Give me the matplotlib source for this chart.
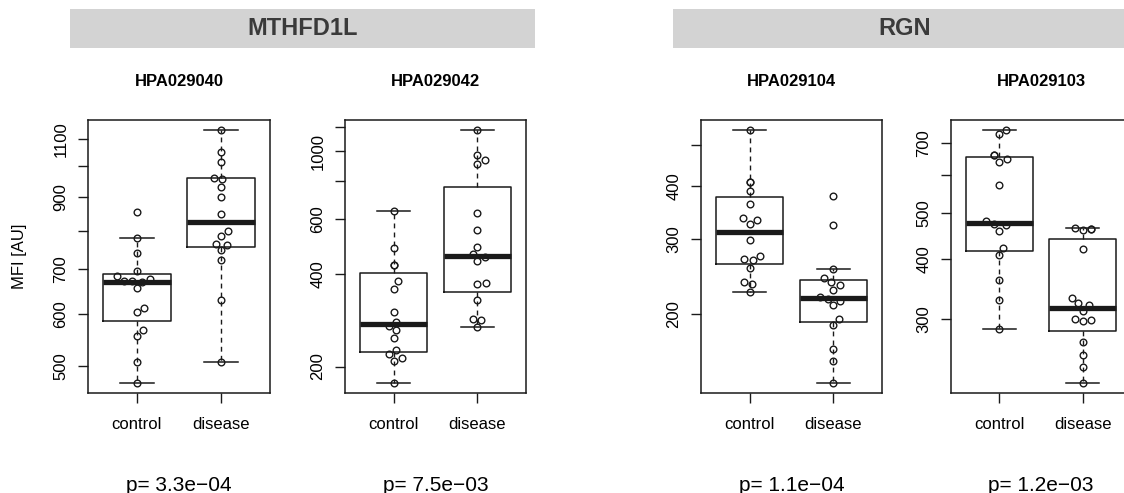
import numpy as np
import matplotlib
matplotlib.use("Agg")
import matplotlib.pyplot as plt
from matplotlib.patches import Rectangle
from matplotlib.ticker import NullLocator, NullFormatter

plt.rcParams['font.family'] = ['Liberation Sans', 'DejaVu Sans']

# data
groups = ['control', 'disease']
genes = ['MTHFD1L', 'RGN']
antibodies = ['HPA029040', 'HPA029042', 'HPA029104', 'HPA029103']
p_values = ['p= 3.3e\u221204', 'p= 7.5e\u221203', 'p= 1.1e\u221204', 'p= 1.2e\u221203']

hpa029040_control = [472, 508, 556, 567, 603, 611, 655, 669, 671, 673, 676, 684, 695, 740, 779, 855]
hpa029040_disease = [508, 629, 723, 748, 762, 764, 786, 799, 848, 900, 930, 957, 961, 1014, 1052, 1134]
hpa029042_control = [177, 209, 213, 220, 227, 247, 262, 270, 279, 300, 358, 378, 428, 428, 485, 641]
hpa029042_disease = [269, 284, 285, 328, 370, 372, 441, 452, 464, 490, 555, 630, 905, 933, 975, 1170]
hpa029104_control = [226, 236, 238, 257, 268, 270, 274, 298, 326, 333, 336, 363, 389, 409, 409, 541]
hpa029104_disease = [138, 155, 166, 189, 195, 210, 215, 217, 220, 228, 234, 238, 243, 256, 324, 378]
hpa029103_control = [286, 329, 362, 408, 423, 459, 471, 473, 481, 571, 641, 649, 660, 660, 731, 746]
hpa029103_disease = [220, 238, 252, 268, 296, 298, 300, 312, 321, 323, 332, 420, 461, 463, 463, 465]

panel_data = [
    (hpa029040_control, hpa029040_disease),
    (hpa029042_control, hpa029042_disease),
    (hpa029104_control, hpa029104_disease),
    (hpa029103_control, hpa029103_disease),
]
yticks = [
    [500, 600, 700, 800, 900, 1000, 1100],
    [200, 400, 600, 800, 1000, 1200],
    [200, 300, 400, 500],
    [300, 400, 500, 600, 700],
]
ytick_labels = [
    ['500', '600', '700', '', '900', '', '1100'],
    ['200', '400', '600', '', '1000', ''],
    ['200', '300', '400', ''],
    ['300', '400', '500', '', '700'],
]


def tukey_stats(values, label):
    # R style fivenum hinges + 1.5 IQR whiskers
    v = np.sort(np.asarray(values, float))
    n = len(v)
    n4 = np.floor((n + 3) / 2) / 2
    d = np.array([1, n4, (n + 1) / 2, n + 1 - n4, n]) - 1
    fn = 0.5 * (v[np.floor(d).astype(int)] + v[np.ceil(d).astype(int)])
    iqr = fn[3] - fn[1]
    lo = v[v >= fn[1] - 1.5 * iqr].min()
    hi = v[v <= fn[3] + 1.5 * iqr].max()
    return dict(med=fn[2], q1=fn[1], q3=fn[3], whislo=lo, whishi=hi,
                fliers=[], label=label)


def swarm(ypix, size):
    order = np.argsort(ypix, kind='stable')
    xs = np.zeros(len(ypix))
    placed = []
    for i in order:
        y = ypix[i]
        cands = [0.0]
        for j in placed:
            dy = abs(ypix[j] - y)
            if dy < size:
                dx = np.sqrt(size ** 2 - dy ** 2)
                cands += [xs[j] + dx, xs[j] - dx]
        cands.sort(key=abs)
        for c in cands:
            if all((xs[j] - c) ** 2 + (ypix[j] - y) ** 2 >= size ** 2 - 1e-6 for j in placed):
                xs[i] = c
                break
        placed.append(i)
    return xs


W, H = 1124, 493
fig = plt.figure(figsize=(W / 100, H / 100), dpi=100)

lefts = [88, 345, 701, 951]
widths = [182, 181, 181, 180]
ax_top, ax_bot = 120, 393

# gene header bars
for name, x0, x1 in [(genes[0], 70, 535), (genes[1], 673, 1137)]:
    fig.add_artist(Rectangle((x0 / W, 1 - 48 / H), (x1 - x0) / W, 39 / H,
                             transform=fig.transFigure, facecolor='#d3d3d3',
                             edgecolor='none'))
    fig.text((x0 + x1) / 2 / W, 1 - 35 / H, name, ha='center', va='baseline',
             fontsize=17, fontweight='bold', color='#3a3a3a')

for k in range(4):
    ax = fig.add_axes([lefts[k] / W, 1 - ax_bot / H, widths[k] / W, (ax_bot - ax_top) / H])
    ctrl, dis = panel_data[k]
    allv = np.array(ctrl + dis, float)
    ax.set_yscale('log')
    lo, hi = np.log(allv.min()), np.log(allv.max())
    pad = 0.04 * (hi - lo)
    ax.set_ylim(np.exp(lo - pad), np.exp(hi + pad))
    ax.set_xlim(0.42, 2.58)

    stats = [tukey_stats(ctrl, groups[0]), tukey_stats(dis, groups[1])]
    ax.bxp(stats, positions=[1, 2], widths=0.8, showfliers=False,
           boxprops=dict(color='#1a1a1a', linewidth=1.1),
           whiskerprops=dict(color='#1a1a1a', linewidth=1.0, linestyle=(0, (3.5, 3))),
           capprops=dict(color='#1a1a1a', linewidth=1.1),
           medianprops=dict(color='#1a1a1a', linewidth=3.8, solid_capstyle='butt'))

    # beeswarm points
    px_per_x = ax.transData.transform([[2, 300]])[0][0] - ax.transData.transform([[1, 300]])[0][0]
    for pos, vals in zip([1, 2], [ctrl, dis]):
        uniq, inv = np.unique(np.asarray(vals, float), return_inverse=True)
        ypix = ax.transData.transform(np.column_stack([np.full(len(uniq), pos), uniq]))[:, 1]
        offs = swarm(ypix, 8.3)
        xs = pos + offs[inv] / px_per_x
        ax.plot(xs, vals, 'o', ms=4.8, mfc='none', mec='#1a1a1a', mew=1.0, zorder=5)

    ax.yaxis.set_minor_locator(NullLocator())
    ax.yaxis.set_minor_formatter(NullFormatter())
    ax.set_yticks(yticks[k])
    ax.set_yticklabels(ytick_labels[k], rotation=90, va='center', fontsize=12)
    ax.set_xticks([1, 2])
    ax.set_xticklabels(groups, fontsize=12)
    ax.tick_params(axis='both', length=7.2, width=1.0, color='#1a1a1a')
    ax.tick_params(axis='x', pad=10)
    ax.tick_params(axis='y', pad=7)
    for s in ax.spines.values():
        s.set_linewidth(1.1)
        s.set_color('#1a1a1a')

    ax.set_title(antibodies[k], fontsize=12, fontweight='bold', pad=24.5)
    ax.text(0.5, (ax_bot - 491) / (ax_bot - ax_top), p_values[k], transform=ax.transAxes,
            ha='center', va='baseline', fontsize=15)
    if k == 0:
        ax.set_ylabel('MFI [AU]', fontsize=12)
        ax.yaxis.set_label_coords((27 - 88) / 182, 0.5)

fig.savefig('out.png', dpi=100)
